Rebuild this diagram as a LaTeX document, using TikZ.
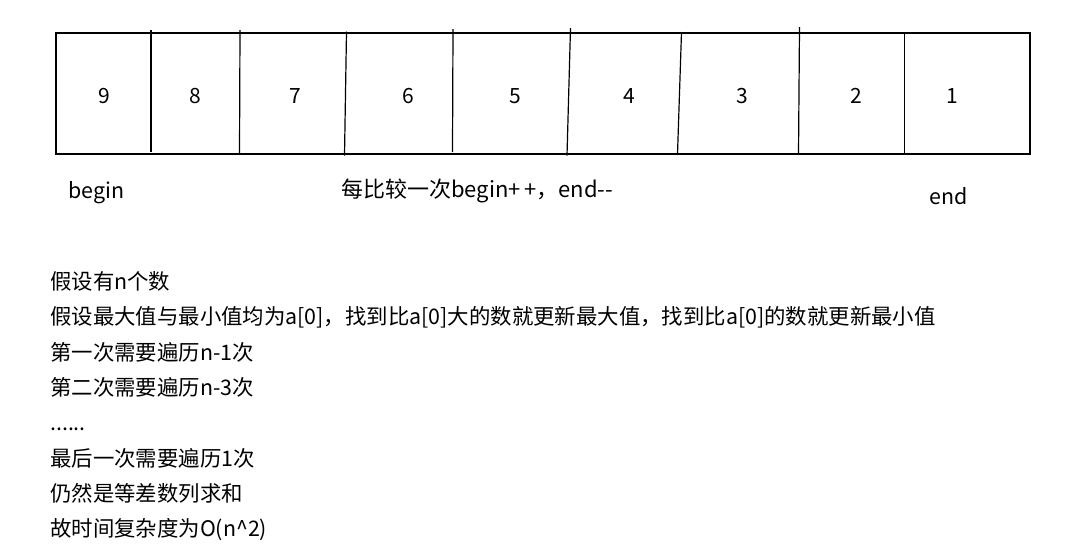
\documentclass[tikz,border=0pt]{standalone}
\usepackage{fontspec}
\setmainfont{Noto Sans CJK SC}
\newcommand{\sixdots}{......}
\begin{document}
\begin{tikzpicture}[x=1pt, y=-1pt,
    every node/.style={inner sep=0pt, font=\fontsize{21}{25}\selectfont},
    cellline/.style={line width=1.2pt},
    textline/.style={anchor=base west, font=\fontsize{21.4}{25}\selectfont}]
    \useasboundingbox (0,0) rectangle (1078,558);
    % array of nine cells
    \draw[cellline] (56,33) rectangle (1030,154);
    \foreach \xa/\ya/\xb/\yb in {151/30/151/152, 240/30/239.5/154,
        346.5/31.5/344.5/155.5, 453/29/452.5/152, 570.5/28/567/155.5,
        681.5/32/677.5/154, 799.5/27/798.5/154, 904.5/32/904.5/154}
    \draw[cellline] (\xa,\ya) -- (\xb,\yb);
    \foreach \x/\n in {104/9, 195/8, 295/7, 408/6, 515/5, 629/4, 742/3, 856/2, 952/1}
    \node (cell\n) at (\x,96) {\n};
    % pointers
    \node[textline] (beginlbl) at (68,198) {begin};
    \node[textline, font=\fontsize{22}{25}\selectfont] (rulelbl) at (341,197)
        {每比较一次begin+\,+，end-{}-};
    \node[textline] (endlbl) at (929,204) {end};
    % explanation
    \foreach \txt [count=\i] in {假设有n个数,
        假设最大值与最小值均为a[0]，找到比a[0]大的数就更新最大值，找到比a[0]的数就更新最小值,
        第一次需要遍历n-1次, 第二次需要遍历n-3次, \sixdots, 最后一次需要遍历1次,
        仍然是等差数列求和, 故时间复杂度为O(n\textasciicircum 2)}
    \node[textline] (line\i) at (50,{289.5+35.3*(\i-1)}) {\txt};
\end{tikzpicture}
\end{document}
